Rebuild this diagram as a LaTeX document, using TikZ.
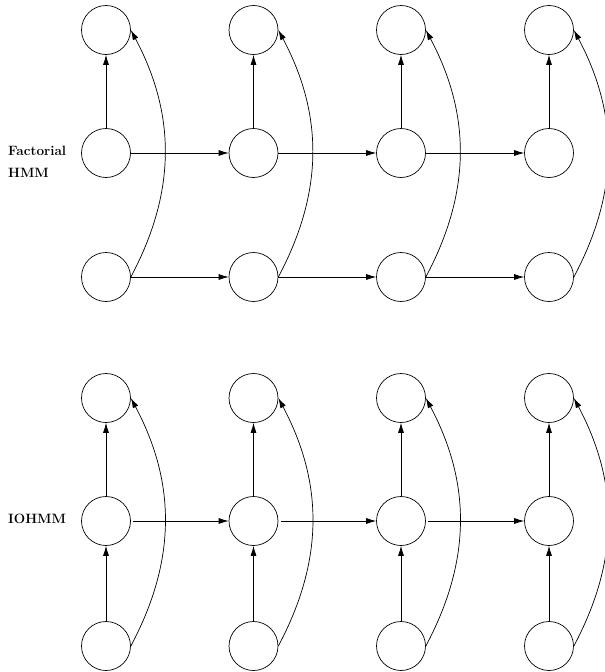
\documentclass[tikz,border=0pt]{standalone}
\usetikzlibrary{arrows.meta}
\begin{document}
\begin{tikzpicture}[x=1pt,y=-1pt,
  st/.style={circle,draw,line width=0.7pt,minimum size=49pt,inner sep=0pt},
  arr/.style={line width=0.7pt,-{Latex[length=10pt,width=6pt]}},
  lbl/.style={anchor=base west,inner sep=0pt,font=\fontsize{13.5}{16}\selectfont\bfseries}]
\useasboundingbox (0,0) rectangle (605,672);
% column x positions
\def\cA{106}\def\cB{253.5}\def\cC{401}\def\cD{549}
% ---------- Factorial HMM ----------
\foreach \c/\x in {1/\cA,2/\cB,3/\cC,4/\cD}{
  \node[st] (ft\c) at (\x,30) {};
  \node[st] (fm\c) at (\x,153) {};
  \node[st] (fb\c) at (\x,277) {};
}
\node[lbl] (flab1) at (8,155) {Factorial};
\node[lbl] (flab2) at (8,177) {HMM};
\foreach \c in {1,2,3,4}{
  \draw[arr] (fm\c) -- (ft\c);
  \draw[arr] (fb\c.east) to[out=62,in=-62] (ft\c.east);
}
\foreach \a/\b in {1/2,2/3,3/4}{
  \draw[arr] (fm\a) -- (fm\b);
  \draw[arr] (fb\a) -- (fb\b);
}
% ---------- IOHMM ----------
\foreach \c/\x in {1/\cA,2/\cB,3/\cC,4/\cD}{
  \node[st] (it\c) at (\x,398) {};
  \node[st] (im\c) at (\x,521) {};
  \node[st] (ib\c) at (\x,646) {};
}
\node[lbl] (ilab) at (8,523) {IOHMM};
\foreach \c in {1,2,3,4}{
  \draw[arr] (im\c) -- (it\c);
  \draw[arr] (ib\c) -- (im\c);
  \draw[arr] (ib\c.east) to[out=62,in=-62] (it\c.east);
}
\foreach \a/\b in {1/2,2/3,3/4}{
  \draw[arr,shorten <=2.5pt] (im\a) -- (im\b);
}
\end{tikzpicture}
\end{document}
